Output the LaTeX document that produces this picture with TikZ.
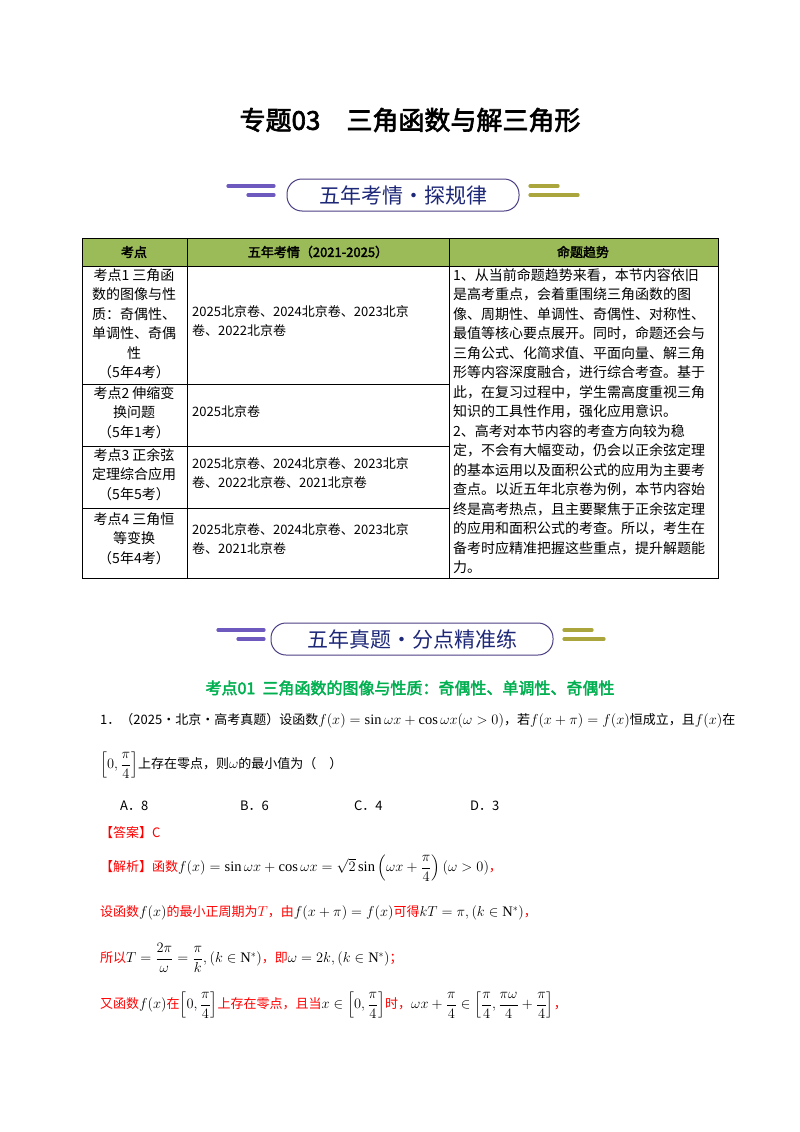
\documentclass[tikz,border=0pt]{standalone}
\usepackage{fontspec}
\usepackage{amsmath,amssymb}
\setmainfont{Liberation Serif}
\newfontfamily\cjk{Noto Sans CJK SC}[AutoFakeBold=2.5]
\newcommand\cjkb{\cjk\bfseries}
\newcommand\mth[1]{{\fontsize{14.5}{19.5}\selectfont$#1$}}
\definecolor{hdgreen}{RGB}{155,187,89}
\definecolor{kdgreen}{RGB}{0,176,80}
\definecolor{bnpurple}{RGB}{110,90,190}
\definecolor{bnolive}{RGB}{170,165,60}
\definecolor{bnblue}{RGB}{30,40,120}
\tikzset{
  txt/.style={anchor=west, inner sep=0pt, font=\cjk\fontsize{13}{19.5}\selectfont},
  cell/.style={anchor=north west, inner sep=0pt, align=left, font=\cjk\fontsize{13}{19.5}\selectfont},
  wcell/.style={cell, font=\cjk\fontsize{14}{19.5}\selectfont},
  ccell/.style={anchor=north, inner sep=0pt, align=center, font=\cjk\fontsize{14}{19.5}\selectfont},
  ans/.style={txt, text=red},
  bar/.style={line width=3.2pt, line cap=round},
  banner/.style={draw=bnpurple!70!black, line width=1pt, rounded corners=15pt, fill=white,
    minimum height=32pt, text=bnblue, font=\cjk\fontsize{21}{21}\selectfont},
}
\begin{document}
\begin{tikzpicture}[x=1pt, y=-1pt]
\useasboundingbox[fill=white] (0,0) rectangle (800,1132);

% Titel
\node[inner sep=0pt, font=\cjkb\fontsize{26}{26}\selectfont] (title) at (410,120) {专题03\quad 三角函数与解三角形};

% Banner 1
\draw[bar, bnpurple] (228,186) -- (274,186);
\draw[bar, bnpurple] (248,195) -- (274,195);
\node[banner, minimum width=232pt] (bn1) at (403,195) {五年考情·探规律};
\draw[bar, bnolive] (530,186) -- (558,186);
\draw[bar, bnolive] (530,195) -- (578,195);

% Tabelle
\fill[hdgreen] (82,238) rectangle (718,266);
\draw[line width=0.8pt] (82,238) rectangle (718,578);
\draw (82,266) -- (718,266);
\draw (187,238) -- (187,578);
\draw (449,238) -- (449,578);
\draw (82,384) -- (449,384);
\draw (82,446) -- (449,446);
\draw (82,508) -- (449,508);
\node[font=\cjkb\fontsize{13}{13}\selectfont] (h1) at (134,252) {考点};
\node[font=\cjkb\fontsize{13}{13}\selectfont] (h2) at (318,252) {五年考情（2021-2025）};
\node[font=\cjkb\fontsize{13}{13}\selectfont] (h3) at (583,252) {命题趋势};

\node[ccell] (k1) at (134,268) {考点1 三角函\\数的图像与性\\质：奇偶性、\\单调性、奇偶\\性\\（5年4考）};
\node[ccell] (k2) at (134,386) {考点2 伸缩变\\换问题\\（5年1考）};
\node[ccell] (k3) at (134,448) {考点3 正余弦\\定理综合应用\\（5年5考）};
\node[ccell] (k4) at (134,512) {考点4 三角恒\\等变换\\（5年4考）};

\node[cell] (q1) at (192,305) {2025北京卷、2024北京卷、2023北京\\卷、2022北京卷};
\node[cell] (q2) at (192,405) {2025北京卷};
\node[cell] (q3) at (192,457) {2025北京卷、2024北京卷、2023北京\\卷、2022北京卷、2021北京卷};
\node[cell] (q4) at (192,523) {2025北京卷、2024北京卷、2023北京\\卷、2021北京卷};

\node[wcell] (trend) at (453,268) {1、从当前命题趋势来看，本节内容依旧\\是高考重点，会着重围绕三角函数的图\\像、周期性、单调性、奇偶性、对称性、\\最值等核心要点展开。同时，命题还会与\\三角公式、化简求值、平面向量、解三角\\形等内容深度融合，进行综合考查。基于\\此，在复习过程中，学生需高度重视三角\\知识的工具性作用，强化应用意识。\\2、高考对本节内容的考查方向较为稳\\定，不会有大幅变动，仍会以正余弦定理\\的基本运用以及面积公式的应用为主要考\\查点。以近五年北京卷为例，本节内容始\\终是高考热点，且主要聚焦于正余弦定理\\的应用和面积公式的考查。所以，考生在\\备考时应精准把握这些重点，提升解题能\\力。};

% Banner 2
\draw[bar, bnpurple] (218,630) -- (264,630);
\draw[bar, bnpurple] (238,639) -- (264,639);
\node[banner, minimum width=282pt] (bn2) at (412,639) {五年真题·分点精准练};
\draw[bar, bnolive] (564,630) -- (592,630);
\draw[bar, bnolive] (564,639) -- (604,639);

% Aufgabe
\node[inner sep=0pt, text=kdgreen, font=\cjkb\fontsize{16}{16}\selectfont] (kd) at (410,688) {考点01\ \ 三角函数的图像与性质：奇偶性、单调性、奇偶性};
\node[txt] (p1) at (100,721) {1．（2025·北京·高考真题）设函数\mth{f(x)=\sin\omega x+\cos\omega x(\omega>0)}，若\mth{f(x+\pi)=f(x)}恒成立，且\mth{f(x)}在};
\node[txt] (p2) at (100,765) {\mth{\left[0,\dfrac{\pi}{4}\right]}上存在零点，则\mth{\omega}的最小值为（\quad）};
\node[txt] (oa) at (120,806) {A．8};
\node[txt] (ob) at (240,806) {B．6};
\node[txt] (oc) at (354,806) {C．4};
\node[txt] (od) at (470,806) {D．3};
\node[ans] (a0) at (100,833) {【答案】C};
\node[ans] (a1) at (100,868) {【解析】函数\textcolor{black}{\mth{f(x)=\sin\omega x+\cos\omega x=\sqrt2\sin\left(\omega x+\dfrac{\pi}{4}\right)(\omega>0)}}，};
\node[ans] (a2) at (100,913) {设函数\textcolor{black}{\mth{f(x)}}的最小正周期为\mth{T}，由\textcolor{black}{\mth{f(x+\pi)=f(x)}}可得\textcolor{black}{\mth{kT=\pi,\left(k\in\mathrm{N}^*\right)}}，};
\node[ans] (a3) at (100,958) {所以\textcolor{black}{\mth{T=\dfrac{2\pi}{\omega}=\dfrac{\pi}{k},\left(k\in\mathrm{N}^*\right)}}，即\textcolor{black}{\mth{\omega=2k,\left(k\in\mathrm{N}^*\right)}}；};
\node[ans] (a4) at (100,1005) {又函数\textcolor{black}{\mth{f(x)}}在\textcolor{black}{\mth{\left[0,\dfrac{\pi}{4}\right]}}上存在零点，且当\textcolor{black}{\mth{x\in\left[0,\dfrac{\pi}{4}\right]}}时，\textcolor{black}{\mth{\omega x+\dfrac{\pi}{4}\in\left[\dfrac{\pi}{4},\dfrac{\pi\omega}{4}+\dfrac{\pi}{4}\right]}}，};
\end{tikzpicture}
\end{document}
